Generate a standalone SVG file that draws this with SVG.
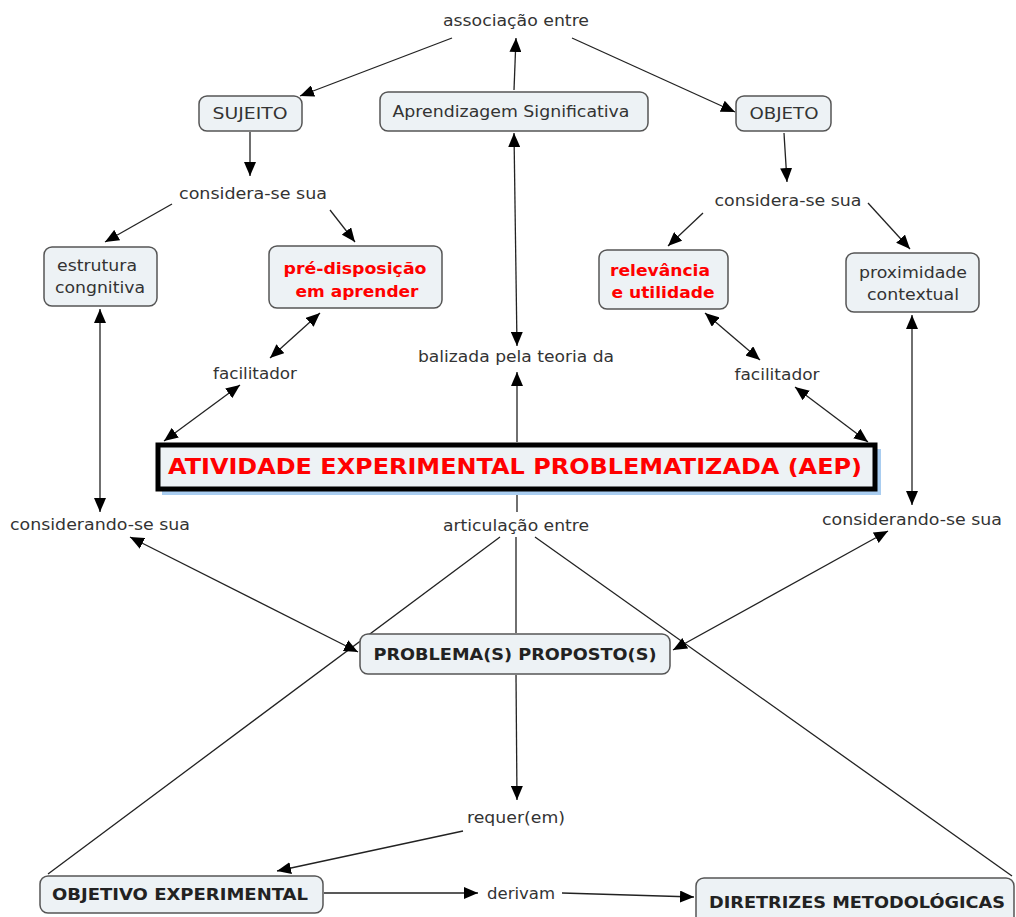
<svg xmlns="http://www.w3.org/2000/svg" width="1016" height="917" viewBox="0 0 1016 917">
<defs>
<marker id="arr" viewBox="0 0 14 12" refX="14" refY="6" markerWidth="14" markerHeight="12" markerUnits="userSpaceOnUse" orient="auto-start-reverse">
<path d="M0,0 L14,6 L0,12 z" fill="#000"/>
</marker>
<style>
.box{fill:#edf2f5;stroke:#555;stroke-width:1.5}
.t{font-family:"DejaVu Sans",Verdana,sans-serif;font-size:16px;fill:#333;text-anchor:middle}
.b{font-family:"DejaVu Sans",Verdana,sans-serif;font-size:16px;font-weight:bold;fill:#222;text-anchor:middle}
.r{font-family:"DejaVu Sans",Verdana,sans-serif;font-size:16px;font-weight:bold;fill:#ff0000;text-anchor:middle}
.c{stroke:#222;stroke-width:1.3;fill:none}
.a{marker-end:url(#arr)}
.d{marker-start:url(#arr);marker-end:url(#arr)}
</style>
</defs>
<rect width="1016" height="917" fill="#fff"/>
<g id="connectors">
<line class="c a" x1="452" y1="38" x2="300" y2="96"/>
<line class="c a" x1="514" y1="90" x2="516" y2="38"/>
<line class="c a" x1="572" y1="38" x2="735" y2="112"/>
<line class="c a" x1="250" y1="132" x2="250" y2="176"/>
<line class="c a" x1="172" y1="204" x2="105" y2="242"/>
<line class="c a" x1="330" y1="210" x2="355" y2="242"/>
<line class="c a" x1="784" y1="133" x2="787" y2="182"/>
<line class="c a" x1="703" y1="213" x2="668" y2="246"/>
<line class="c a" x1="868" y1="203" x2="910" y2="249"/>
<line class="c d" x1="514" y1="133" x2="517" y2="346"/>
<line class="c a" x1="517" y1="442" x2="517" y2="372"/>
<line class="c d" x1="100" y1="309" x2="100" y2="512"/>
<line class="c d" x1="320" y1="313" x2="270" y2="358"/>
<line class="c d" x1="240" y1="385" x2="164" y2="441"/>
<line class="c d" x1="705" y1="313" x2="760" y2="360"/>
<line class="c d" x1="795" y1="387" x2="868" y2="442"/>
<line class="c d" x1="912" y1="315" x2="912" y2="505"/>
<line class="c" x1="517" y1="491" x2="517" y2="512"/>
<line class="c" x1="516" y1="537" x2="516" y2="633"/>
<line class="c" x1="500" y1="537" x2="48" y2="874"/>
<line class="c" x1="535" y1="537" x2="1012" y2="876"/>
<line class="c d" x1="130" y1="537" x2="358" y2="652"/>
<line class="c d" x1="888" y1="531" x2="673" y2="650"/>
<line class="c a" x1="516" y1="675" x2="517" y2="800"/>
<line class="c a" x1="463" y1="831" x2="277" y2="871"/>
<line class="c a" x1="324" y1="893" x2="478" y2="893"/>
<line class="c a" x1="562" y1="893" x2="694" y2="897"/>
</g>
<g id="n-assoc"><text class="t" x="516" y="26" textLength="146" lengthAdjust="spacingAndGlyphs">associação entre</text></g>
<g id="n-sujeito"><rect class="box" x="199" y="96" width="103" height="35" rx="8"/><text class="t" x="250" y="119" textLength="75" lengthAdjust="spacingAndGlyphs">SUJEITO</text></g>
<g id="n-aprend"><rect class="box" x="380" y="92" width="268" height="39" rx="8"/><text class="t" x="511" y="117" textLength="237" lengthAdjust="spacingAndGlyphs">Aprendizagem Significativa</text></g>
<g id="n-objeto"><rect class="box" x="736" y="96" width="95" height="35" rx="8"/><text class="t" x="784" y="119" textLength="69" lengthAdjust="spacingAndGlyphs">OBJETO</text></g>
<g id="n-consL"><text class="t" x="253" y="199" textLength="148" lengthAdjust="spacingAndGlyphs">considera-se sua</text></g>
<g id="n-consR"><text class="t" x="788" y="206" textLength="147" lengthAdjust="spacingAndGlyphs">considera-se sua</text></g>
<g id="n-estrutura"><rect class="box" x="44" y="247" width="113" height="59" rx="8"/><text class="t" x="97" y="271" textLength="80" lengthAdjust="spacingAndGlyphs">estrutura</text><text class="t" x="100" y="293" textLength="90" lengthAdjust="spacingAndGlyphs">congnitiva</text></g>
<g id="n-predisp"><rect class="box" x="269" y="246" width="173" height="62" rx="8"/><text class="r" x="355" y="274" textLength="143" lengthAdjust="spacingAndGlyphs">pré-disposição</text><text class="r" x="357" y="297" textLength="123" lengthAdjust="spacingAndGlyphs">em aprender</text></g>
<g id="n-relev"><rect class="box" x="599" y="250" width="129" height="59" rx="8"/><text class="r" x="660" y="276" textLength="100" lengthAdjust="spacingAndGlyphs">relevância</text><text class="r" x="663" y="298" textLength="103" lengthAdjust="spacingAndGlyphs">e utilidade</text></g>
<g id="n-proxim"><rect class="box" x="846" y="253" width="133" height="59" rx="8"/><text class="t" x="913" y="278" textLength="108" lengthAdjust="spacingAndGlyphs">proximidade</text><text class="t" x="913" y="300" textLength="92" lengthAdjust="spacingAndGlyphs">contextual</text></g>
<g id="n-facL"><text class="t" x="255" y="379" textLength="84" lengthAdjust="spacingAndGlyphs">facilitador</text></g>
<g id="n-baliz"><text class="t" x="516" y="362" textLength="196" lengthAdjust="spacingAndGlyphs">balizada pela teoria da</text></g>
<g id="n-facR"><text class="t" x="777" y="380" textLength="85" lengthAdjust="spacingAndGlyphs">facilitador</text></g>
<g id="n-aep">
<rect x="162" y="449" width="719" height="46" fill="#a9cdf0"/>
<rect x="158" y="445" width="717" height="44" fill="#edf2f5" stroke="#000" stroke-width="5"/>
<text class="r" x="515" y="474" style="font-size:21px" textLength="694" lengthAdjust="spacingAndGlyphs">ATIVIDADE EXPERIMENTAL PROBLEMATIZADA (AEP)</text>
</g>
<g id="n-consdL"><text class="t" x="100" y="530" textLength="180" lengthAdjust="spacingAndGlyphs">considerando-se sua</text></g>
<g id="n-artic"><text class="t" x="516" y="531" textLength="146" lengthAdjust="spacingAndGlyphs">articulação entre</text></g>
<g id="n-consdR"><text class="t" x="912" y="525" textLength="180" lengthAdjust="spacingAndGlyphs">considerando-se sua</text></g>
<g id="n-problema"><rect class="box" x="360" y="634" width="310" height="40" rx="8"/><text class="b" x="515" y="660" textLength="283" lengthAdjust="spacingAndGlyphs">PROBLEMA(S) PROPOSTO(S)</text></g>
<g id="n-requer"><text class="t" x="516" y="823" textLength="98" lengthAdjust="spacingAndGlyphs">requer(em)</text></g>
<g id="n-objetivo"><rect class="box" x="40" y="876" width="283" height="37" rx="8"/><text class="b" x="180" y="900" textLength="256" lengthAdjust="spacingAndGlyphs">OBJETIVO EXPERIMENTAL</text></g>
<g id="n-derivam"><text class="t" x="521" y="899" textLength="68" lengthAdjust="spacingAndGlyphs">derivam</text></g>
<g id="n-diretrizes"><rect class="box" x="696" y="878" width="318" height="50" rx="8"/><text class="b" x="857" y="908" textLength="296" lengthAdjust="spacingAndGlyphs">DIRETRIZES METODOLÓGICAS</text></g>
</svg>
